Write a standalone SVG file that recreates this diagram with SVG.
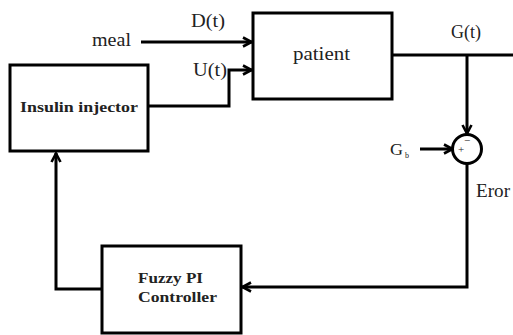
<svg xmlns="http://www.w3.org/2000/svg" width="513" height="335" viewBox="0 0 513 335">
<style>
.box{fill:#fff;stroke:#000;stroke-width:3}
.ln{fill:none;stroke:#000;stroke-width:3}
.t{font-family:"Liberation Serif","DejaVu Serif",serif;fill:#222}
.b{font-weight:bold}
</style>
<defs>
<marker id="arr" viewBox="0 0 12 12" refX="11" refY="6" markerWidth="12" markerHeight="12" orient="auto" markerUnits="userSpaceOnUse">
<path d="M2 1.5 L10.5 6 L2 10.5" fill="none" stroke="#000" stroke-width="2.6"/>
</marker>
</defs>
<rect width="513" height="335" fill="#fff"/>
<g id="connectors">
<path class="ln" d="M141 42 H252" marker-end="url(#arr)"/>
<path class="ln" d="M148 106 H229 V70 H252" marker-end="url(#arr)"/>
<path class="ln" d="M392 55 H513"/>
<path class="ln" d="M467 55 V134" marker-end="url(#arr)"/>
<path class="ln" d="M420 149 H453" marker-end="url(#arr)"/>
<path class="ln" d="M467 163 V287 H242" marker-end="url(#arr)"/>
<path class="ln" d="M102 289 H56 V153" marker-end="url(#arr)"/>
</g>
<g id="patient">
<rect class="box" x="253" y="13" width="139" height="86"/>
<text class="t" x="293" y="60" font-size="18" textLength="57" lengthAdjust="spacingAndGlyphs">patient</text>
</g>
<g id="injector">
<rect class="box" x="10" y="65" width="138" height="86"/>
<text class="t b" x="20" y="112" font-size="15.5" textLength="118" lengthAdjust="spacingAndGlyphs">Insulin injector</text>
</g>
<g id="controller">
<rect class="box" x="102" y="246" width="139" height="87"/>
<text class="t b" x="138" y="283" font-size="15" textLength="65" lengthAdjust="spacingAndGlyphs">Fuzzy PI</text>
<text class="t b" x="138" y="302" font-size="15" textLength="79" lengthAdjust="spacingAndGlyphs">Controller</text>
</g>
<g id="sum">
<circle cx="467" cy="149" r="14.5" fill="#fff" stroke="#000" stroke-width="3"/>
<text class="t" x="461" y="153" font-size="11" text-anchor="middle">+</text>
<text class="t" x="467" y="144" font-size="11" text-anchor="middle">−</text>
</g>
<g id="labels">
<text class="t" x="92" y="46" font-size="18" textLength="39" lengthAdjust="spacingAndGlyphs">meal</text>
<text class="t" x="191" y="27" font-size="18" textLength="34" lengthAdjust="spacingAndGlyphs">D(t)</text>
<text class="t" x="193" y="76" font-size="18" textLength="34" lengthAdjust="spacingAndGlyphs">U(t)</text>
<text class="t" x="451" y="38" font-size="18" textLength="30" lengthAdjust="spacingAndGlyphs">G(t)</text>
<text class="t" x="390" y="155" font-size="17" textLength="13" lengthAdjust="spacingAndGlyphs">G</text>
<text class="t" x="405" y="158" font-size="8">b</text>
<text class="t" x="476" y="197" font-size="18" textLength="34" lengthAdjust="spacingAndGlyphs">Eror</text>
</g>
</svg>
